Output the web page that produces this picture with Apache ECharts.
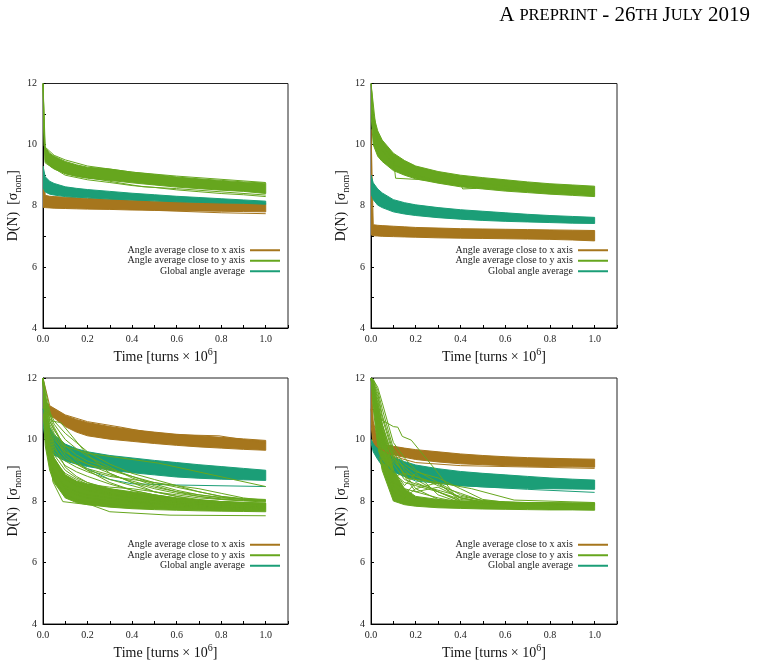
<!DOCTYPE html>
<html>
<head>
<meta charset="utf-8">
<script src="https://cdn.jsdelivr.net/npm/echarts@6/dist/echarts.min.js"></script>
<style>
html,body{margin:0;padding:0;background:#fff;}
#main{width:762px;height:665px;}
</style>
</head>
<body>
<div id="main"></div>
<script>
// common time samples [turns x 10^6]
var T = [0, 0.01, 0.03, 0.05, 0.1, 0.15, 0.2, 0.3, 0.4, 0.5, 0.6, 0.7, 0.8, 0.9, 1.0];
var NAMES = ['Angle average close to x axis', 'Angle average close to y axis', 'Global angle average'];
var BROWN = '#a6761d', GREEN = '#66a61e', TEAL = '#1b9e77';
var SERIF = 'Liberation Serif';

// panel A (top left): band edges and single runs
var aBrownHi = [9.3, 8.34, 8.31, 8.3, 8.28, 8.26, 8.24, 8.21, 8.18, 8.15, 8.13, 8.11, 8.09, 8.08, 8.07];
var aBrownLo = [7.95, 7.94, 7.93, 7.92, 7.91, 7.9, 7.89, 7.88, 7.86, 7.85, 7.84, 7.83, 7.82, 7.81, 7.8];
var aTealHi = [9.3, 8.95, 8.8, 8.73, 8.62, 8.57, 8.53, 8.47, 8.41, 8.36, 8.31, 8.27, 8.23, 8.19, 8.15];
var aTealLo = [8.6, 8.45, 8.38, 8.35, 8.3, 8.28, 8.26, 8.22, 8.19, 8.16, 8.13, 8.11, 8.09, 8.08, 8.05];
var aGreenHi = [12, 9.9, 9.72, 9.62, 9.45, 9.34, 9.26, 9.2, 9.1, 9.02, 8.94, 8.88, 8.83, 8.78, 8.74];
var aGreenLo = [11, 9.45, 9.3, 9.2, 9.05, 8.96, 8.9, 8.83, 8.75, 8.68, 8.61, 8.56, 8.51, 8.47, 8.4];
var aBrownRuns = [
	[[0, 8.3], [0.2, 8.0], [0.5, 7.85], [0.8, 7.77], [1.0, 7.74]]
];
var aTealRuns = [];
var aGreenRuns = [
	[[0, 12], [0.01, 9.4], [0.1, 9.0], [0.2, 8.85], [0.3, 8.76], [0.4, 8.66], [0.5, 8.6], [0.6, 8.52], [0.7, 8.46], [0.8, 8.4], [0.9, 8.36], [1.0, 8.3]],
	[[0, 12], [0.01, 9.5], [0.1, 9.05], [0.3, 8.8], [0.45, 8.62], [0.6, 8.56], [1.0, 8.35]],
	[[0, 12], [0.005, 9.95], [0.05, 9.65], [0.1, 9.5], [0.2, 9.3], [0.28, 9.22], [0.4, 9.1], [0.6, 8.97], [1.0, 8.76]]
];

// panel B (top right)
var bBrownHi = [10.5, 7.38, 7.36, 7.35, 7.33, 7.31, 7.29, 7.27, 7.25, 7.24, 7.23, 7.22, 7.21, 7.2, 7.19];
var bBrownLo = [7.05, 7.02, 7.01, 7.0, 6.99, 6.98, 6.97, 6.95, 6.94, 6.93, 6.92, 6.91, 6.9, 6.88, 6.85];
var bTealHi = [9.0, 8.75, 8.55, 8.42, 8.2, 8.1, 8.03, 7.94, 7.87, 7.82, 7.77, 7.72, 7.68, 7.65, 7.62];
var bTealLo = [8.4, 8.2, 8.02, 7.94, 7.8, 7.73, 7.68, 7.61, 7.56, 7.52, 7.49, 7.47, 7.45, 7.43, 7.42];
var bGreenHi = [12, 11.0, 10.45, 10.15, 9.72, 9.48, 9.3, 9.12, 9.0, 8.92, 8.85, 8.78, 8.72, 8.68, 8.64];
var bGreenLo = [11, 10.0, 9.62, 9.45, 9.15, 9.0, 8.88, 8.74, 8.62, 8.55, 8.48, 8.43, 8.38, 8.34, 8.3];
var bBrownRuns = [];
var bTealRuns = [];
var bGreenRuns = [
	[[0, 12], [0.02, 10.3], [0.09, 9.6], [0.1, 9.55], [0.11, 8.9], [0.21, 8.86], [0.3, 8.8], [0.5, 8.6], [1.0, 8.4]],
	[[0, 12], [0.03, 10.0], [0.1, 9.35], [0.2, 9.0], [0.3, 8.82], [0.4, 8.72], [0.41, 8.55], [0.47, 8.57], [0.48, 8.75], [0.7, 8.55], [1.0, 8.4]]
];

// panel C (bottom left)
var cBrownHi = [12, 11.25, 11.08, 11.0, 10.78, 10.65, 10.55, 10.42, 10.32, 10.24, 10.17, 10.12, 10.07, 10.02, 9.97];
var cBrownLo = [11.0, 10.85, 10.78, 10.7, 10.42, 10.24, 10.12, 10.01, 9.94, 9.87, 9.81, 9.76, 9.72, 9.68, 9.65];
var cTealHi = [11.5, 10.9, 10.4, 10.15, 9.85, 9.7, 9.6, 9.48, 9.4, 9.32, 9.25, 9.18, 9.12, 9.06, 9.0];
var cTealLo = [10.5, 10.0, 9.7, 9.5, 9.3, 9.2, 9.12, 9.0, 8.92, 8.85, 8.78, 8.74, 8.71, 8.69, 8.67];
var cGreenHi = [12, 10.6, 9.8, 9.4, 8.85, 8.65, 8.55, 8.4, 8.3, 8.2, 8.1, 8.03, 7.98, 7.95, 7.93];
var cGreenLo = [11.0, 9.8, 9.0, 8.6, 8.1, 7.95, 7.88, 7.8, 7.75, 7.72, 7.7, 7.68, 7.67, 7.66, 7.65];
var cBrownRuns = [
	[[0, 12], [0.03, 11.1], [0.1, 10.8], [0.2, 10.58], [0.35, 10.4], [0.52, 10.17], [0.79, 10.12], [1.0, 9.88]]
];
var cTealRuns = [
	[[0, 11], [0.03, 10.2], [0.1, 9.5], [0.2, 9.05], [0.3, 8.7], [0.4, 8.56], [0.6, 8.52], [1.0, 8.47]]
];
var cGreenSpread = [
	[12, 11.0, 10.3, 10.0, 9.6, 9.4, 9.2, 8.9, 8.6, 8.4, 8.25, 8.15, 8.07, 8.02, 8.0],
	[12, 10.7, 9.9, 9.5, 9.0, 8.75, 8.6, 8.4, 8.25, 8.15, 8.08, 8.02, 7.98, 7.95, 7.92],
	[12, 11.2, 10.6, 10.3, 9.8, 9.5, 9.3, 9.05, 8.8, 8.6, 8.45, 8.3, 8.15, 8.05, 8.0],
	[12, 10.4, 9.5, 9.0, 8.4, 8.2, 8.1, 8.0, 7.95, 7.9, 7.86, 7.83, 7.8, 7.78, 7.77],
	[12, 10.9, 10.1, 9.7, 9.3, 9.1, 8.95, 8.7, 8.5, 8.3, 8.15, 8.05, 7.98, 7.93, 7.9],
	[12, 11.3, 10.8, 10.5, 10.0, 9.7, 9.45, 9.1, 8.75, 8.5, 8.3, 8.15, 8.05, 8.0, 7.97],
	[12, 10.6, 9.7, 9.2, 8.7, 8.5, 8.35, 8.2, 8.1, 8.02, 7.96, 7.9, 7.86, 7.83, 7.8],
	[12, 11.1, 10.4, 10.1, 9.5, 9.2, 9.0, 8.8, 8.7, 8.6, 8.5, 8.4, 8.25, 8.1, 8.02],
	[12, 10.8, 10.0, 9.6, 9.15, 8.95, 8.8, 8.55, 8.35, 8.2, 8.1, 8.03, 7.98, 7.95, 7.93],
	[12, 11.4, 10.9, 10.6, 10.2, 9.9, 9.6, 9.2, 8.9, 8.7, 8.5, 8.3, 8.15, 8.08, 8.05],
	[12, 10.2, 9.2, 8.7, 8.2, 8.05, 7.98, 7.9, 7.85, 7.82, 7.8, 7.78, 7.76, 7.75, 7.74],
	[12, 11.0, 10.2, 9.8, 9.1, 8.8, 8.6, 8.35, 8.2, 8.1, 8.0, 7.95, 7.9, 7.88, 7.86],
	[12, 10.5, 9.6, 9.3, 8.9, 8.7, 8.55, 8.45, 8.4, 8.3, 8.2, 8.1, 8.05, 8.02, 8.0],
	[12, 11.2, 10.7, 10.4, 9.7, 9.3, 9.0, 8.6, 8.35, 8.2, 8.08, 8.0, 7.95, 7.92, 7.9],
	[12, 10.9, 10.2, 9.9, 9.4, 9.2, 9.05, 8.85, 8.65, 8.45, 8.3, 8.2, 8.12, 8.06, 8.03],
	[12, 10.3, 9.4, 8.9, 8.5, 8.3, 8.2, 8.1, 8.0, 7.94, 7.9, 7.86, 7.83, 7.81, 7.8],
	[12, 11.1, 10.5, 10.2, 9.6, 9.35, 9.2, 9.0, 8.8, 8.55, 8.35, 8.2, 8.1, 8.05, 8.0],
	[12, 10.7, 9.8, 9.4, 8.8, 8.6, 8.45, 8.25, 8.12, 8.03, 7.97, 7.92, 7.88, 7.86, 7.84]
];
var cGreenRuns = [
	[[0, 12], [0.02, 10.5], [0.044, 8.63], [0.089, 7.98], [0.216, 7.87], [0.3, 7.65], [0.57, 7.54], [1.0, 7.52]],
	[[0, 12], [0.03, 10.6], [0.09, 9.8], [0.2, 9.55], [0.3, 9.45], [0.52, 9.23], [1.0, 8.47]],
	[[0, 12], [0.04, 10.6], [0.08, 10.55], [0.12, 10.2], [0.2, 9.5], [0.3, 8.9], [0.5, 8.3], [0.7, 8.0], [1.0, 7.9]]
];

// panel D (bottom right)
var dBrownHi = [12, 10.6, 9.95, 9.85, 9.78, 9.72, 9.67, 9.6, 9.53, 9.48, 9.44, 9.41, 9.39, 9.37, 9.36];
var dBrownLo = [10.5, 9.8, 9.62, 9.56, 9.5, 9.42, 9.35, 9.27, 9.21, 9.18, 9.15, 9.13, 9.12, 9.11, 9.1];
var dTealHi = [10.0, 9.85, 9.72, 9.62, 9.43, 9.28, 9.17, 9.05, 8.96, 8.9, 8.85, 8.8, 8.75, 8.71, 8.68];
var dTealLo = [9.9, 9.6, 9.35, 9.15, 8.95, 8.8, 8.7, 8.58, 8.5, 8.46, 8.43, 8.41, 8.4, 8.39, 8.38];
var dGreenHi = [12, 11.7, 11.0, 10.4, 9.0, 8.4, 8.15, 8.05, 8.0, 7.98, 7.96, 7.95, 7.94, 7.94, 7.94];
var dGreenLo = [12, 11.0, 9.8, 9.0, 8.0, 7.88, 7.83, 7.78, 7.76, 7.74, 7.73, 7.72, 7.71, 7.71, 7.7];
var dBrownRuns = [
	[[0, 11], [0.02, 9.8], [0.1, 9.45], [0.2, 9.25], [0.4, 9.15], [1.0, 9.06]]
];
var dTealRuns = [
	[[0, 10], [0.05, 9.3], [0.1, 8.95], [0.2, 8.65], [0.4, 8.5], [0.7, 8.38], [1.0, 8.28]]
];
var dGreenSpread = [
	[12, 11.9, 11.5, 10.8, 9.6, 9.0, 8.7, 8.3, 8.05, 7.98, 7.95, 7.94, 7.93, 7.92, 7.92],
	[12, 11.6, 10.6, 9.9, 8.9, 8.6, 8.5, 8.3, 8.0, 7.95, 7.93, 7.92, 7.91, 7.9, 7.9],
	[12, 11.8, 11.2, 10.5, 9.3, 8.9, 8.8, 8.55, 8.1, 7.98, 7.95, 7.93, 7.92, 7.91, 7.9],
	[12, 11.5, 10.3, 9.6, 8.6, 8.4, 8.3, 8.1, 7.95, 7.92, 7.9, 7.89, 7.88, 7.87, 7.87],
	[12, 11.95, 11.7, 11.2, 9.9, 9.4, 9.0, 8.6, 8.2, 8.0, 7.96, 7.94, 7.93, 7.92, 7.92],
	[12, 11.7, 10.8, 10.1, 9.2, 8.7, 8.55, 8.35, 8.15, 8.02, 7.97, 7.95, 7.93, 7.92, 7.91],
	[12, 11.9, 11.3, 10.5, 9.0, 8.5, 8.9, 8.2, 7.95, 7.93, 7.92, 7.91, 7.9, 7.9, 7.9],
	[12, 11.4, 10.2, 9.5, 8.5, 8.2, 8.6, 8.3, 7.98, 7.95, 7.93, 7.92, 7.91, 7.9, 7.9],
	[12, 11.8, 11.0, 10.0, 8.8, 8.9, 8.4, 8.6, 8.0, 7.96, 7.94, 7.93, 7.92, 7.91, 7.9],
	[12, 11.6, 10.9, 10.3, 9.4, 9.1, 8.8, 8.5, 8.25, 8.0, 7.96, 7.94, 7.93, 7.92, 7.92],
	[12, 11.95, 11.6, 11.0, 9.7, 9.2, 8.95, 8.75, 8.4, 8.05, 7.96, 7.94, 7.93, 7.92, 7.92],
	[12, 11.3, 10.0, 9.2, 8.3, 8.1, 8.4, 8.05, 7.92, 7.9, 7.89, 7.88, 7.87, 7.86, 7.86],
	[12, 11.85, 11.4, 10.7, 9.5, 8.8, 8.3, 8.45, 8.1, 7.97, 7.95, 7.93, 7.92, 7.91, 7.91]
];
var dGreenRuns = [
	[[0, 12], [0.02, 11.5], [0.04, 10.67], [0.1, 10.42], [0.12, 10.4], [0.14, 10.1], [0.18, 9.98], [0.29, 9.0], [0.38, 8.14], [0.5, 7.95], [1.0, 7.9]],
	[[0, 12], [0.05, 10.5], [0.1, 9.4], [0.16, 8.74], [0.3, 8.6], [0.45, 8.4], [0.64, 8.03], [1.0, 7.95]]
];

var myChart = echarts.init(document.getElementById('main'));

//网格位置
var grids = [
	{left: 43, top: 83.5, width: 245, height: 244.5},
	{left: 371, top: 83.5, width: 246, height: 244.5},
	{left: 43, top: 378, width: 245, height: 246},
	{left: 371, top: 378, width: 246, height: 246}
];

function bandSeries(gi, hi, lo, color, name) {
	return {
		type: 'custom', name: name, xAxisIndex: gi, yAxisIndex: gi,
		coordinateSystem: 'cartesian2d', clip: true, silent: true,
		itemStyle: {color: color},
		data: [[T[0], hi[0]]],
		renderItem: function (params, api) {
			var pts = [];
			for (var i = 0; i < T.length; i++) pts.push(api.coord([T[i], hi[i]]));
			for (var j = T.length - 1; j >= 0; j--) pts.push(api.coord([T[j], lo[j]]));
			return {type: 'polygon', shape: {points: pts}, style: {fill: color, stroke: color, lineWidth: 1}};
		}
	};
}

function runSeries(gi, pts, color, name) {
	return {
		type: 'line', name: name, xAxisIndex: gi, yAxisIndex: gi,
		data: pts, symbol: 'none', silent: true,
		lineStyle: {width: 1, color: color}, itemStyle: {color: color}
	};
}

function onT(vals) {
	return T.map(function (t, i) { return [t, vals[i]]; });
}

var series = [];
function addPanel(gi, p) {
	series.push(bandSeries(gi, p.bh, p.bl, BROWN, NAMES[0]));
	p.br.forEach(function (r) { series.push(runSeries(gi, r, BROWN, NAMES[0])); });
	series.push(bandSeries(gi, p.th, p.tl, TEAL, NAMES[2]));
	p.tr.forEach(function (r) { series.push(runSeries(gi, r, TEAL, NAMES[2])); });
	series.push(bandSeries(gi, p.gh, p.gl, GREEN, NAMES[1]));
	(p.gs || []).forEach(function (v) { series.push(runSeries(gi, onT(v), GREEN, NAMES[1])); });
	p.gr.forEach(function (r) { series.push(runSeries(gi, r, GREEN, NAMES[1])); });
}
addPanel(0, {bh: aBrownHi, bl: aBrownLo, br: aBrownRuns, th: aTealHi, tl: aTealLo, tr: aTealRuns, gh: aGreenHi, gl: aGreenLo, gr: aGreenRuns});
addPanel(1, {bh: bBrownHi, bl: bBrownLo, br: bBrownRuns, th: bTealHi, tl: bTealLo, tr: bTealRuns, gh: bGreenHi, gl: bGreenLo, gr: bGreenRuns});
addPanel(2, {bh: cBrownHi, bl: cBrownLo, br: cBrownRuns, th: cTealHi, tl: cTealLo, tr: cTealRuns, gh: cGreenHi, gl: cGreenLo, gs: cGreenSpread, gr: cGreenRuns});
addPanel(3, {bh: dBrownHi, bl: dBrownLo, br: dBrownRuns, th: dTealHi, tl: dTealLo, tr: dTealRuns, gh: dGreenHi, gl: dGreenLo, gs: dGreenSpread, gr: dGreenRuns});

var xAxes = [], yAxes = [], legends = [];
grids.forEach(function (g, i) {
	xAxes.push({
		gridIndex: i, type: 'value', min: 0, max: 1.1, interval: 0.1,
		axisLine: {lineStyle: {color: '#000', width: 1}},
		axisTick: {inside: true, length: 3, lineStyle: {color: '#000'}},
		splitLine: {show: false},
		axisLabel: {
			color: '#222', fontFamily: SERIF, fontSize: 10, margin: 6,
			formatter: function (v) {
				var k = Math.round(v * 10);
				return (k % 2 === 0 && k <= 10) ? (k / 10).toFixed(1) : '';
			}
		},
		name: '{a|Time [turns × 10}{p|6}{a|]}', nameLocation: 'middle', nameGap: 19,
		nameTextStyle: {
			rich: {
				a: {fontFamily: SERIF, fontSize: 14, color: '#111', lineHeight: 20},
				p: {fontFamily: SERIF, fontSize: 10, color: '#111', lineHeight: 10, verticalAlign: 'top'}
			}
		}
	});
	yAxes.push({
		gridIndex: i, type: 'value', min: 4, max: 12, interval: 1,
		axisLine: {lineStyle: {color: '#000', width: 1}},
		axisTick: {inside: true, length: 3, lineStyle: {color: '#000'}},
		splitLine: {show: false},
		axisLabel: {
			color: '#222', fontFamily: SERIF, fontSize: 10, margin: 6,
			formatter: function (v) { return v % 2 === 0 ? String(v) : ''; }
		},
		name: '{a|D(N)  [σ}{s|nom}{a|]}', nameLocation: 'middle', nameGap: 20, nameRotate: 90,
		nameTextStyle: {
			rich: {
				a: {fontFamily: SERIF, fontSize: 14, color: '#111', lineHeight: 20},
				s: {fontFamily: SERIF, fontSize: 10, color: '#111', lineHeight: 10, verticalAlign: 'bottom'}
			}
		}
	});
	legends.push({
		orient: 'vertical', align: 'right', padding: 0, itemGap: 0,
		right: 762 - (g.left + 237), top: g.top + 161.5,
		itemWidth: 30, itemHeight: 2, selectedMode: false,
		textStyle: {fontFamily: SERIF, fontSize: 10, color: '#222', lineHeight: 10.5},
		data: [
			{name: NAMES[0], icon: 'rect', itemStyle: {color: BROWN}},
			{name: NAMES[1], icon: 'rect', itemStyle: {color: GREEN}},
			{name: NAMES[2], icon: 'rect', itemStyle: {color: TEAL}}
		]
	});
});

var option = {
	animation: false,
	backgroundColor: '#fff',
	title: {
		right: 7, top: 0,
		text: '{b|A} {s|PREPRINT} {b|- 26}{s|TH} {b|J}{s|ULY} {b|2019}',
		textStyle: {
			fontWeight: 'normal',
			rich: {
				b: {fontFamily: SERIF, fontSize: 21, fontWeight: 'normal', color: '#000'},
				s: {fontFamily: SERIF, fontSize: 16.5, fontWeight: 'normal', color: '#000'}
			}
		}
	},
	grid: grids.map(function (g) {
		return {left: g.left, top: g.top, width: g.width, height: g.height, show: true, borderColor: '#222', borderWidth: 1, backgroundColor: 'transparent'};
	}),
	xAxis: xAxes,
	yAxis: yAxes,
	legend: legends,
	series: series
};
myChart.setOption(option);
</script>
</body>
</html>
